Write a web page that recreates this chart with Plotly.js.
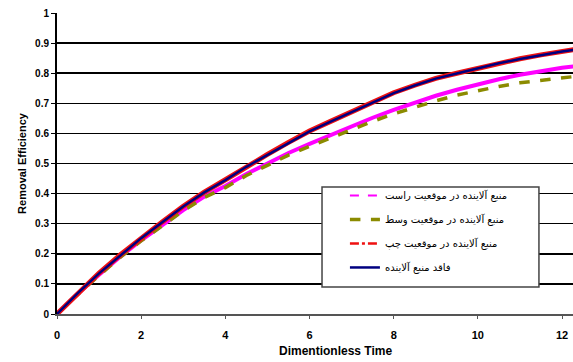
<!DOCTYPE html>
<html>
<head>
<meta charset="utf-8">
<script src="https://cdn.plot.ly/plotly-3.0.1.min.js"></script>
<style>html,body{margin:0;padding:0;background:#fff;}#chart{width:573px;height:362px;}</style>
</head>
<body>
<div id="chart"></div>
<script>
const time = [0,0.5,1,1.5,2,2.5,3,3.5,4,4.5,5,5.5,6,6.5,7,7.5,8,8.5,9,9.5,10,10.5,11,11.5,12,12.3];
const rightSource = [0,0.068,0.13,0.19,0.245,0.295,0.345,0.39,0.425,0.465,0.5,0.535,0.565,0.595,0.625,0.652,0.678,0.702,0.725,0.745,0.763,0.78,0.795,0.808,0.818,0.823];
const middleSource = [0,0.066,0.128,0.188,0.243,0.293,0.343,0.387,0.42,0.46,0.495,0.528,0.557,0.585,0.612,0.64,0.665,0.688,0.708,0.727,0.742,0.756,0.768,0.777,0.785,0.789];
const leftSource = [0,0.07,0.136,0.196,0.253,0.306,0.358,0.405,0.446,0.49,0.53,0.57,0.608,0.64,0.672,0.705,0.735,0.76,0.783,0.8,0.817,0.834,0.848,0.861,0.873,0.879];
const noSource = [0,0.07,0.135,0.195,0.252,0.305,0.357,0.404,0.445,0.489,0.529,0.569,0.607,0.639,0.671,0.704,0.734,0.759,0.782,0.799,0.816,0.833,0.847,0.86,0.872,0.878];
const names = ['منبع آلاینده در موقعیت راست','منبع آلاینده در موقعیت وسط','منبع آلاینده در موقعیت چپ','فاقد منبع آلاینده'];
const yTicks = [0,0.1,0.2,0.3,0.4,0.5,0.6,0.7,0.8,0.9,1];
const xTicks = [0,2,4,6,8,10,12];

const traces = [
  {x: time, y: rightSource, mode:'lines', line:{color:'#ff00ff', width:4}, showlegend:false, legendgroup:'a'},
  {x: [null], y: [null], name: names[0], mode:'lines', line:{color:'#ff00ff', width:2, dash:'dash'}, legendgroup:'a'},
  {x: time, y: middleSource, name: names[1], mode:'lines', line:{color:'#8b8b00', width:3.5, dash:'dash'}, legendgroup:'b'},
  {x: time, y: leftSource, mode:'lines', line:{color:'#ee1111', width:5}, showlegend:false, legendgroup:'c'},
  {x: [null], y: [null], name: names[2], mode:'lines', line:{color:'#ee1111', width:2.5, dash:'dashdot'}, legendgroup:'c'},
  {x: time, y: noSource, name: names[3], mode:'lines', line:{color:'#000080', width:2.5}, legendgroup:'d'}
];

const layout = {
  width:573, height:362,
  margin:{l:57, r:0, t:13, b:48},
  paper_bgcolor:'#fff', plot_bgcolor:'#fff',
  font:{family:'Arial, Liberation Sans, sans-serif', color:'#000'},
  xaxis:{range:[0,12.26], tickvals:xTicks, ticktext:xTicks.map(String), showgrid:false, zeroline:false,
    showline:true, linecolor:'#555', linewidth:2, ticks:'outside', ticklen:3, tickcolor:'#555',
    ticklabelstandoff:7, ticklabeloverflow:'allow',
    tickfont:{size:11, weight:'bold'}},
  yaxis:{range:[0,1], tickvals:yTicks, ticktext:yTicks.map(String), showgrid:true, gridcolor:'#000', gridwidth:1.5,
    zeroline:false, showline:true, linecolor:'#000', linewidth:2, ticks:'outside', ticklen:4, tickcolor:'#000',
    tickfont:{size:10, weight:'bold'},
    title:{text:'Removal Efficiency', font:{size:11, weight:'bold'}, standoff:6}},
  shapes:[{type:'rect', xref:'paper', yref:'paper', x0:0.5136, x1:0.934, y0:0.0897, y1:0.422,
    fillcolor:'#fff', line:{color:'#444', width:1.5}, layer:'above'}],
  legend:{x:0.558, y:0.442, xanchor:'left', yanchor:'top', bgcolor:'rgba(0,0,0,0)', borderwidth:0,
    font:{family:'DejaVu Sans', size:10}, tracegroupgap:5},
  annotations:[{text:'Dimentionless Time', xref:'paper', yref:'paper', x:0.54, y:-0.123, xanchor:'center', yanchor:'middle',
    showarrow:false, font:{size:12, weight:'bold'}}]
};

Plotly.newPlot('chart', traces, layout, {displayModeBar:false, staticPlot:true});
</script>
</body>
</html>
